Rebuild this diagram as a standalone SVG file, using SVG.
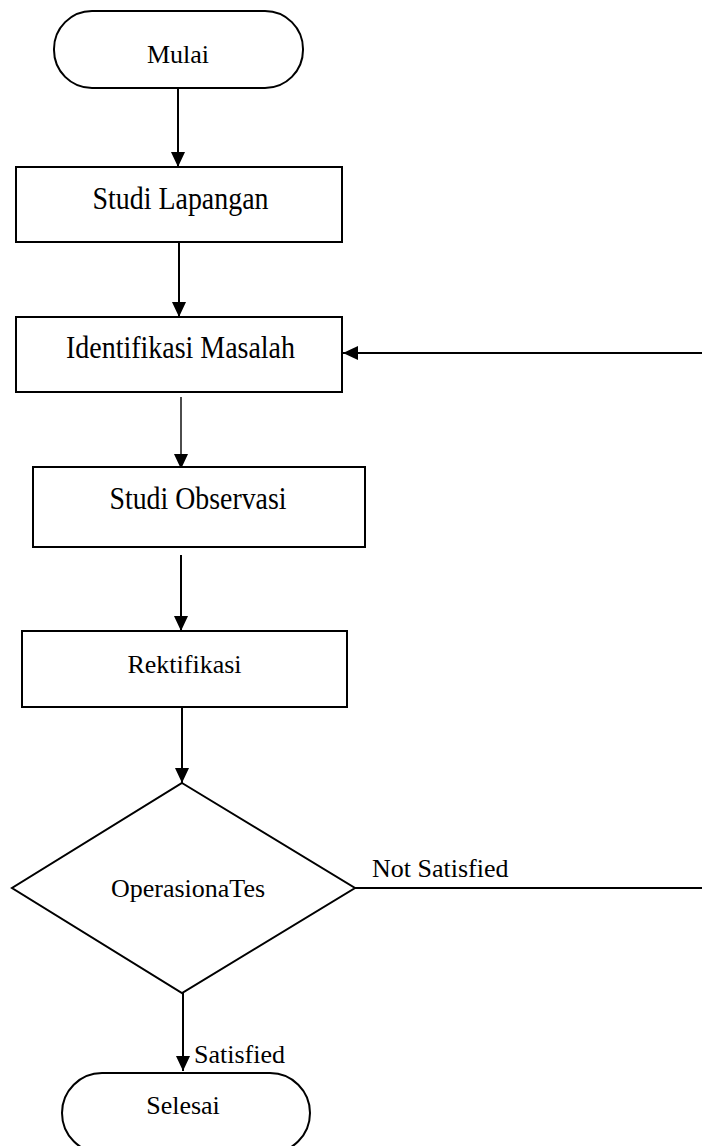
<svg xmlns="http://www.w3.org/2000/svg" width="702" height="1146" viewBox="0 0 702 1146">
<style>
.shape{fill:#fff;stroke:#000;stroke-width:2}
.t{font-family:"Liberation Serif","Times New Roman",serif;font-size:26px;fill:#000}
.tb{font-family:"Liberation Serif","Times New Roman",serif;font-size:32px;fill:#000}
.c{text-anchor:middle}
.ln{fill:none;stroke:#000;stroke-width:2}
.lt{fill:none;stroke:#000;stroke-width:1.4}
</style>
<defs>
<marker id="ah" markerUnits="userSpaceOnUse" markerWidth="16" markerHeight="16" viewBox="0 0 16 16" refX="15" refY="8" orient="auto">
<path d="M0,1 L15,8 L0,15 Z" fill="#000"/>
</marker>
</defs>
<rect width="702" height="1146" fill="#fff"/>
<g id="connectors">
<line class="ln" x1="178" y1="88" x2="178" y2="167" marker-end="url(#ah)"/>
<line class="ln" x1="179" y1="242" x2="179" y2="317" marker-end="url(#ah)"/>
<line class="lt" x1="181" y1="397" x2="181" y2="469" marker-end="url(#ah)"/>
<line class="ln" x1="181" y1="555" x2="181" y2="631" marker-end="url(#ah)"/>
<line class="ln" x1="182" y1="707" x2="182" y2="783" marker-end="url(#ah)"/>
<line class="ln" x1="183" y1="993" x2="183" y2="1071" marker-end="url(#ah)"/>
<line class="ln" x1="355" y1="888" x2="702" y2="888"/>
<line class="ln" x1="702" y1="353" x2="343" y2="353" marker-end="url(#ah)"/>
<text class="t" x="372" y="877">Not Satisfied</text>
<text class="t" x="194" y="1063">Satisfied</text>
</g>
<g id="mulai">
<rect class="shape" x="54" y="11" width="249" height="77" rx="38" ry="38"/>
<text class="t c" x="178" y="63">Mulai</text>
</g>
<g id="studi-lapangan">
<rect class="shape" x="16" y="167" width="326" height="75"/>
<text class="tb c" x="180.5" y="209" textLength="176" lengthAdjust="spacingAndGlyphs">Studi Lapangan</text>
</g>
<g id="identifikasi-masalah">
<rect class="shape" x="16" y="317" width="326" height="75"/>
<text class="tb c" x="180.5" y="358" textLength="229" lengthAdjust="spacingAndGlyphs">Identifikasi Masalah</text>
</g>
<g id="studi-observasi">
<rect class="shape" x="33" y="467" width="332" height="80"/>
<text class="tb c" x="198" y="509" textLength="177" lengthAdjust="spacingAndGlyphs">Studi Observasi</text>
</g>
<g id="rektifikasi">
<rect class="shape" x="22" y="631" width="325" height="76"/>
<text class="t c" x="184.5" y="673">Rektifikasi</text>
</g>
<g id="operasional-tes">
<polygon class="shape" points="182,783 355,888 182,993 12,888"/>
<text class="t c" x="188" y="897">OperasionaTes</text>
</g>
<g id="selesai">
<rect class="shape" x="62" y="1073" width="248" height="80" rx="40" ry="40"/>
<text class="t c" x="183" y="1114">Selesai</text>
</g>
</svg>
